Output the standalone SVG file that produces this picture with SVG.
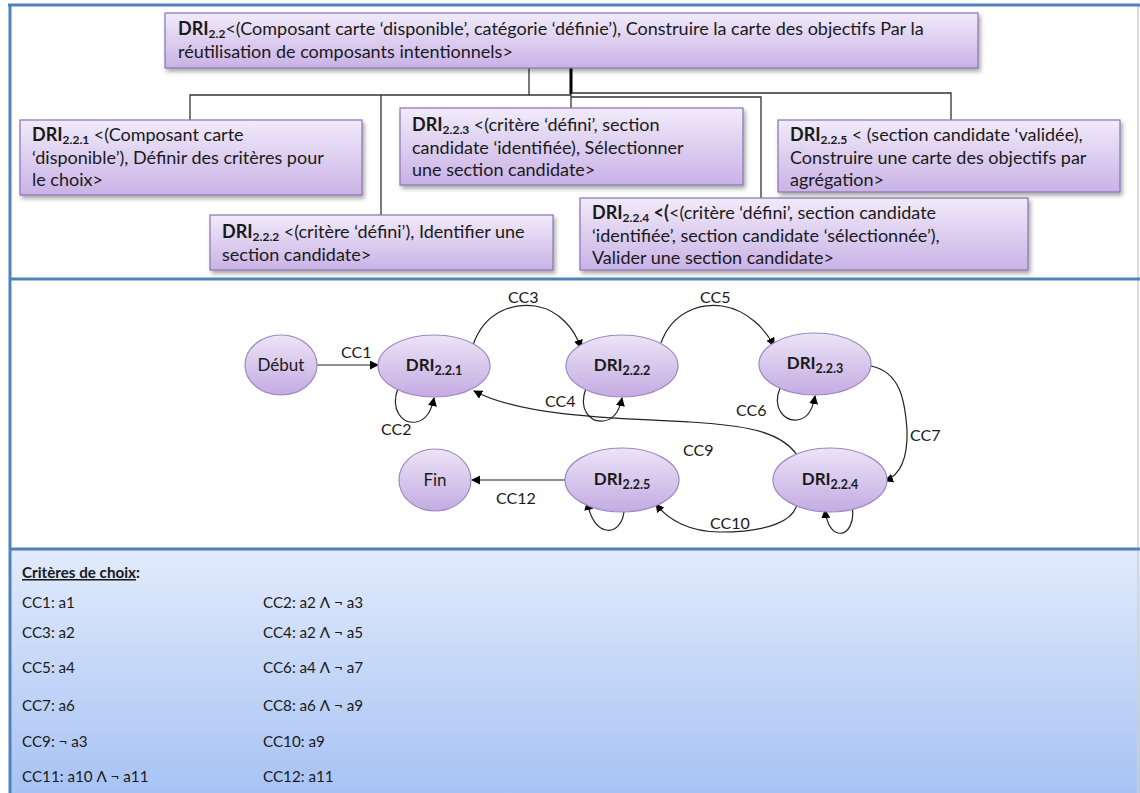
<svg xmlns="http://www.w3.org/2000/svg" width="1140" height="793" viewBox="0 0 1140 793">
<defs>
<linearGradient id="boxg" x1="0" y1="0" x2="0" y2="1">
<stop offset="0" stop-color="#f1ebfa"/>
<stop offset="1" stop-color="#c9b2e6"/>
</linearGradient>
<linearGradient id="ellg" x1="0" y1="0" x2="0" y2="1">
<stop offset="0" stop-color="#ece4f7"/>
<stop offset="1" stop-color="#c4abe2"/>
</linearGradient>
<linearGradient id="critg" x1="0" y1="0" x2="0" y2="1">
<stop offset="0" stop-color="#e2ebfc"/>
<stop offset="1" stop-color="#a7c3f4"/>
</linearGradient>
<filter id="sh" x="-10%" y="-20%" width="130%" height="160%">
<feDropShadow dx="2" dy="3" stdDeviation="2" flood-color="#000" flood-opacity="0.35"/>
</filter>
<marker id="ah" viewBox="0 0 10 10" refX="9" refY="5" markerWidth="9" markerHeight="9" orient="auto" markerUnits="userSpaceOnUse">
<path d="M0,0 L10,5 L0,10 z" fill="#000"/>
</marker>
</defs>
<style>
text{font-family:Lato,"Open Sans","Liberation Sans",sans-serif;font-size:15.5px;fill:#1a1a1a}
.bt{font-size:18px}
.b{font-weight:bold}
.sub{font-size:12px;font-weight:bold}
.et{font-size:17px}
.esub{font-size:12.5px;font-weight:bold}
.box{fill:url(#boxg);stroke:#8a72b0;stroke-width:1.2;filter:url(#sh)}
.ell{fill:url(#ellg);stroke:#9d88c2;stroke-width:1.2}
.tree{fill:none;stroke:#333;stroke-width:1.3}
.edge{fill:none;stroke:#222;stroke-width:1.2;marker-end:url(#ah)}
.lbl{font-size:16px}
.crit{font-size:15.2px}
.frame{stroke:#4f81bd;stroke-width:3}
</style>

<!-- panels -->
<rect x="10" y="549" width="1130" height="244" fill="url(#critg)"/>
<line x1="1138" y1="5" x2="1138" y2="793" stroke="#d0d0d0" stroke-width="1.5"/>
<g id="frames">
<line class="frame" x1="8" y1="5" x2="1140" y2="5"/>
<line class="frame" x1="10" y1="5" x2="10" y2="793"/>
<line class="frame" x1="10" y1="279" x2="1140" y2="279"/>
<line class="frame" x1="10" y1="549" x2="1140" y2="549"/>
</g>

<!-- tree connectors -->
<g id="tree-connectors">
<path class="tree" d="M529,68 V95 H190 V120"/>
<path class="tree" d="M381,95 V215"/>
<path class="tree" d="M529,95 H571"/>
<path d="M571,68 V94" stroke="#000" stroke-width="3" fill="none"/>
<path class="tree" d="M571,94 V108"/>
<path class="tree" d="M571,93 H951 V120"/>
<path class="tree" d="M571,97 H761 V198"/>
</g>

<g id="n-dri22">
<rect class="box" x="165" y="13" width="813" height="55"/>
<text class="bt" x="178" y="35"><tspan class="b">DRI</tspan><tspan class="sub" dy="3">2.2</tspan><tspan dy="-3">&lt;(Composant carte ‘disponible’, catégorie ‘définie’), Construire la carte des objectifs Par la</tspan></text>
<text class="bt" x="178" y="58">réutilisation de composants  intentionnels&gt;</text>
</g>

<g id="n-dri221">
<rect class="box" x="20" y="120" width="342" height="75"/>
<text class="bt" x="32" y="141"><tspan class="b">DRI</tspan><tspan class="sub" dy="3">2.2.1</tspan><tspan dy="-3"> &lt;(Composant carte</tspan></text>
<text class="bt" x="32" y="164">‘disponible’), Définir des critères pour</text>
<text class="bt" x="32" y="186">le choix&gt;</text>
</g>

<g id="n-dri222">
<rect class="box" x="210" y="215" width="343" height="55"/>
<text class="bt" x="222" y="238"><tspan class="b">DRI</tspan><tspan class="sub" dy="3">2.2.2</tspan><tspan dy="-3"> &lt;(critère ‘défini’), Identifier une</tspan></text>
<text class="bt" x="222" y="261">section candidate&gt;</text>
</g>

<g id="n-dri223">
<rect class="box" x="400" y="108" width="343" height="77"/>
<text class="bt" x="412" y="131"><tspan class="b">DRI</tspan><tspan class="sub" dy="3">2.2.3</tspan><tspan dy="-3"> &lt;(critère ‘défini’, section</tspan></text>
<text class="bt" x="412" y="154">candidate ‘identifiée), Sélectionner</text>
<text class="bt" x="412" y="176">une section candidate&gt;</text>
</g>

<g id="n-dri224">
<rect class="box" x="580" y="198" width="448" height="72"/>
<text class="bt" x="592" y="219"><tspan class="b">DRI</tspan><tspan class="sub" dy="3">2.2.4</tspan><tspan dy="-3" class="b"> &lt;(</tspan><tspan>&lt;(critère ‘défini’, section candidate</tspan></text>
<text class="bt" x="592" y="242">‘identifiée’, section candidate ‘sélectionnée’),</text>
<text class="bt" x="592" y="264">Valider une section candidate&gt;</text>
</g>

<g id="n-dri225">
<rect class="box" x="778" y="120" width="342" height="72"/>
<text class="bt" x="790" y="141"><tspan class="b">DRI</tspan><tspan class="sub" dy="3">2.2.5</tspan><tspan dy="-3"> &lt; (section candidate ‘validée),</tspan></text>
<text class="bt" x="790" y="164">Construire une carte des objectifs par</text>
<text class="bt" x="790" y="186">agrégation&gt;</text>
</g>

<!-- graph connectors -->
<g id="graph-connectors">
<path class="edge" d="M317,365 H378"/>
<path class="edge" d="M398,388 C390,410 402,424 416,422 C428,420 432,408 434,398"/>
<path class="edge" d="M473,345 C485,310 515,303 535,306 C560,310 575,330 581,348"/>
<path class="edge" d="M586,388 C578,410 590,422 603,421 C615,420 620,408 622,398"/>
<path class="edge" d="M661,343 C672,312 700,303 722,306 C748,310 766,330 774,346"/>
<path class="edge" d="M780,388 C772,408 784,421 797,420 C808,419 813,408 815,396"/>
<path class="edge" d="M871,366 C900,372 905,400 907,430 C908,462 898,476 885,481"/>
<path class="edge" d="M797,455 C780,430 740,425 690,422 C600,418 520,415 474,391"/>
<path class="edge" d="M797,503 C795,520 770,532 720,532 C690,532 668,520 656,504"/>
<path class="edge" d="M566,480 H472"/>
<path class="edge" d="M624,509 C624,522 616,532 606,530 C596,528 590,516 587,502"/>
<path class="edge" d="M852,507 C855,522 848,535 838,533 C830,531 826,520 825,510"/>
</g>
<g id="edge-labels">
<text class="lbl" x="341" y="358">CC1</text>
<text class="lbl" x="381" y="435">CC2</text>
<text class="lbl" x="508" y="303">CC3</text>
<text class="lbl" x="545" y="407">CC4</text>
<text class="lbl" x="700" y="303">CC5</text>
<text class="lbl" x="736" y="416">CC6</text>
<text class="lbl" x="910" y="441">CC7</text>
<text class="lbl" x="683" y="456">CC9</text>
<text class="lbl" x="710" y="529">CC10</text>
<text class="lbl" x="496" y="504">CC12</text>
</g>

<g id="e-debut"><ellipse class="ell" cx="281" cy="365" rx="36" ry="30"/><text class="et" x="281" y="371" text-anchor="middle">Début</text></g>
<g id="e-dri221"><ellipse class="ell" cx="434" cy="366" rx="56" ry="31"/><text class="et" x="434" y="371" text-anchor="middle"><tspan class="b">DRI</tspan><tspan class="esub" dy="4">2.2.1</tspan></text></g>
<g id="e-dri222"><ellipse class="ell" cx="622" cy="366" rx="56" ry="31"/><text class="et" x="622" y="371" text-anchor="middle"><tspan class="b">DRI</tspan><tspan class="esub" dy="4">2.2.2</tspan></text></g>
<g id="e-dri223"><ellipse class="ell" cx="815" cy="364" rx="56" ry="31"/><text class="et" x="815" y="369" text-anchor="middle"><tspan class="b">DRI</tspan><tspan class="esub" dy="4">2.2.3</tspan></text></g>
<g id="e-dri224"><ellipse class="ell" cx="830" cy="480" rx="57" ry="32"/><text class="et" x="830" y="485" text-anchor="middle"><tspan class="b">DRI</tspan><tspan class="esub" dy="4">2.2.4</tspan></text></g>
<g id="e-dri225"><ellipse class="ell" cx="622" cy="480" rx="57" ry="32"/><text class="et" x="622" y="485" text-anchor="middle"><tspan class="b">DRI</tspan><tspan class="esub" dy="4">2.2.5</tspan></text></g>
<g id="e-fin"><ellipse class="ell" cx="435" cy="480" rx="36" ry="31"/><text class="et" x="435" y="486" text-anchor="middle">Fin</text></g>

<g id="criteria">
<text class="crit" x="22" y="578"><tspan class="b" text-decoration="underline">Critères de choix</tspan><tspan class="b">:</tspan></text>
<text class="crit" x="22" y="608">CC1: a1</text>
<text class="crit" x="263" y="608">CC2: a2 Λ ¬ a3</text>
<text class="crit" x="22" y="638">CC3: a2</text>
<text class="crit" x="263" y="638">CC4: a2 Λ ¬ a5</text>
<text class="crit" x="22" y="673">CC5: a4</text>
<text class="crit" x="263" y="673">CC6: a4 Λ ¬ a7</text>
<text class="crit" x="22" y="711">CC7: a6</text>
<text class="crit" x="263" y="711">CC8: a6 Λ ¬ a9</text>
<text class="crit" x="22" y="747">CC9: ¬ a3</text>
<text class="crit" x="263" y="747">CC10: a9</text>
<text class="crit" x="22" y="782">CC11: a10 Λ ¬ a11</text>
<text class="crit" x="263" y="782">CC12: a11</text>
</g>
</svg>
